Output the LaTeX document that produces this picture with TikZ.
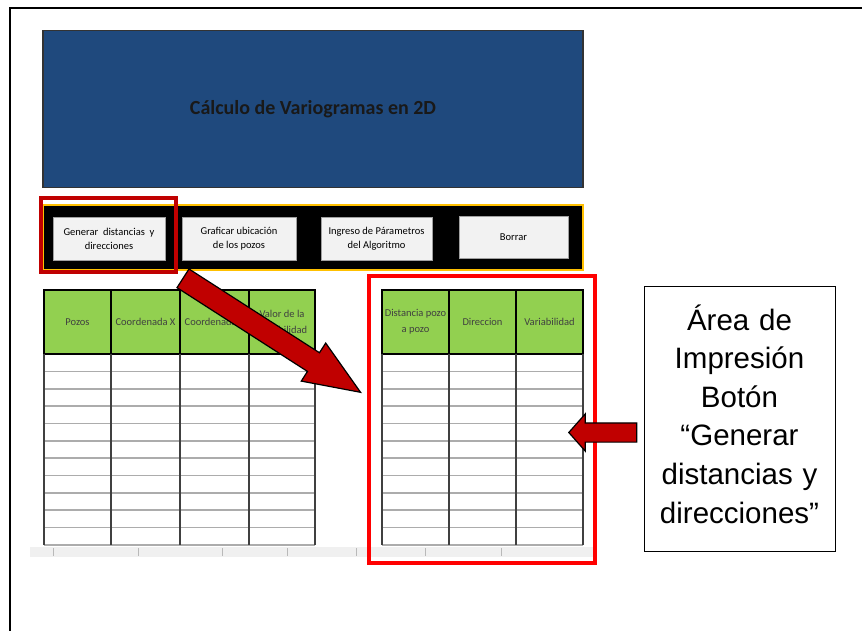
\documentclass[tikz,border=0pt]{standalone}
\usepackage{fontspec}
\newfontfamily\calibri{Carlito}
\newfontfamily\arial{Liberation Sans}
\usetikzlibrary{shapes.arrows}
\definecolor{titleblue}{RGB}{31,73,125}
\definecolor{hgreen}{RGB}{146,208,80}
\definecolor{arrowred}{RGB}{192,0,0}
\definecolor{baryellow}{RGB}{255,192,0}
\definecolor{btngray}{RGB}{242,242,242}
\definecolor{btnedge}{RGB}{160,160,160}

\begin{document}
\begin{tikzpicture}[x=1pt,y=-1pt,%
  % common options for the buttons:
  btn/.style = {draw=btnedge, fill=btngray, align=center, inner sep=0,
              minimum height=43pt, font=\calibri\fontsize{10.5}{14}\selectfont},
  % common options for the table headers:
  hcell/.style = {draw=black, line width=1.8pt, fill=hgreen, align=center,
              minimum height=64pt, inner sep=0, text=black!75,
              font=\calibri\fontsize{10.5}{16}\selectfont},
  % red frames and block arrows:
  redbox/.style = {line width=3.5pt},
  blockarrow/.style = {single arrow, draw=black, line width=1.2pt,
              fill=arrowred, inner xsep=0}]

\useasboundingbox (0,0) rectangle (862,631);

% page frame
\draw[line width=2pt] (862,8) -- (10,8) -- (10,631);

% title banner
\node[draw=black!80, line width=1.2pt, fill=titleblue, minimum width=540pt,
  minimum height=157pt, text=black!90,
  font=\calibri\bfseries\fontsize{20}{24}\selectfont] (banner) at (313,109)
  {Cálculo de Variogramas en 2D};

% black button bar
\node[fill=black, draw=baryellow, line width=2pt, minimum width=540pt,
  minimum height=65pt, inner sep=0] (bar) at (313,237.5) {};

% the buttons
\node[btn,minimum width=112pt] (gen) at (109,238.5)
  {Generar~ distancias~ y\\direcciones};
\node[btn,minimum width=114pt] (graf) at (239,238.5)
  {Graficar ubicación\\de los pozos};
\node[btn,minimum width=111pt] (ingr) at (376.5,238.5)
  {Ingreso de Párametros\\del Algoritmo};
\node[btn,minimum width=109pt,minimum height=42pt] (borrar) at (513.5,237)
  {Borrar};

% red frame round the first button
\draw[redbox,draw=arrowred] (41,198) rectangle (176,272);

% left table: headers
\node[hcell,minimum width=67pt] (pozos) at (77.5,322) {Pozos};
\node[hcell,minimum width=69pt] (coordx) at (145.5,322) {Coordenada X};
\node[hcell,minimum width=69pt] (coordy) at (214.5,322) {Coordenada Y};
\node[hcell,minimum width=66pt] (valor) at (282,322) {Valor de la\\Variabilidad};

% right table: headers
\node[hcell,minimum width=67pt] (dist) at (415.5,322) {Distancia pozo\\a pozo};
\node[hcell,minimum width=67pt] (direc) at (482.5,322) {Direccion};
\node[hcell,minimum width=67pt] (varia) at (549.5,322) {Variabilidad};

% empty rows of both tables
\foreach \r in {1,...,11} {
  \draw[gray!65,line width=1.6pt] (44,{354+\r*17.36}) -- (315,{354+\r*17.36});
  \draw[gray!65,line width=1.6pt] (382,{354+\r*17.36}) -- (583,{354+\r*17.36});
}
\foreach \c in {44,111,180,249,315,382,449,516,583}
  \draw[black!75,line width=1.2pt] (\c,354) -- (\c,545);

% sheet tabs strip
\fill[gray!12] (30,547) rectangle (597,557);
\foreach \t in {53,138,222,287,356,425,501}
  \draw[gray!55] (\t,548) -- (\t,556);

% red frame round the printing area
\draw[redbox,draw=red] (369,276) rectangle (595,563);

% arrow from the button to the printing area
\node[blockarrow, anchor=tail, minimum height=211pt, inner ysep=10.5pt,
  single arrow head extend=11.5pt, single arrow tip angle=44,
  rotate=-32.7] (arrow1) at (182.5,278) {};

% note explaining the printing area
\node[draw=black, line width=0.8pt, minimum width=191pt,
  minimum height=265pt, inner sep=0] (area) at (739.5,419) {};
\node[text width=191pt, inner sep=0, align=center,
  font=\arial\fontsize{29.5}{38.6}\selectfont] (areatext)
  at ([yshift=5pt]area.center)
  {Área de\\Impresión\\Botón\\“Generar\\distancias y\\direcciones”};

% arrow from the note to the printing area
\node[blockarrow, anchor=tip, minimum height=68pt, inner ysep=9pt,
  single arrow head extend=9pt, single arrow tip angle=97,
  rotate=180] (arrow2) at (568,432.5) {};
\end{tikzpicture}
\end{document}
